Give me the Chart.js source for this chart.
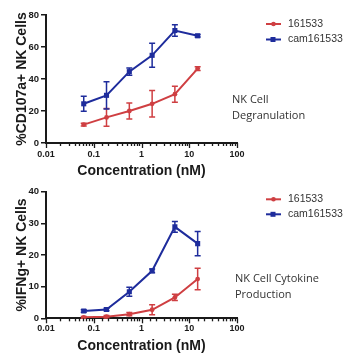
<!DOCTYPE html>
<html><head><meta charset="utf-8">
<script src="https://cdn.jsdelivr.net/npm/chart.js@4.4.1/dist/chart.umd.min.js"></script>
<style>
html,body{margin:0;padding:0;background:#fff;width:360px;height:360px;overflow:hidden}
canvas{position:absolute;left:0}
#c1{top:0px}
#c2{top:180px}
.note{position:absolute;font-family:"Open Sans",sans-serif;font-size:11px;line-height:16px;color:#333;white-space:nowrap}
</style></head><body>
<canvas id="c1" width="360" height="180"></canvas>
<canvas id="c2" width="360" height="180"></canvas>
<div class="note" style="left:232px;top:91px">NK Cell<br>Degranulation</div>
<div class="note" style="left:235px;top:270px">NK Cell Cytokine<br>Production</div>
<script>
// ---- data ----
const concentrations = [0.0617, 0.185, 0.556, 1.67, 5, 15];
const seriesNames = ["161533", "cam161533"];
const xTickLabels = ["0.01", "0.1", "1", "10", "100"];

const degran161533 = [11.5, 16, 20, 24.5, 30.5, 46.5];
const degran161533Err = [0.8, 5.5, 5, 8.3, 5, 1.2];
const degranCam161533 = [24.5, 29.8, 44.6, 54.8, 70.3, 67];
const degranCam161533Err = [4.7, 8.5, 2.3, 7.5, 3.6, 0.8];

const ifng161533 = [0.3, 0.5, 1.3, 2.7, 6.6, 12.4];
const ifng161533Err = [0.3, 0.4, 0.5, 1.6, 1.0, 3.4];
const ifngCam161533 = [2.3, 2.8, 8.4, 15, 28.9, 23.6];
const ifngCam161533Err = [0.4, 0.4, 1.4, 0.6, 1.7, 3.8];

const RED = '#cf3f42';
const BLUE = '#1e2c9c';
const AX = '#1a1a1a';
const FONT = '"Liberation Sans", Arial, sans-serif';

const errorBars = {
  id: 'errorBars',
  afterDatasetsDraw(chart) {
    const ctx = chart.ctx, xs = chart.scales.x, ys = chart.scales.y;
    chart.data.datasets.forEach(ds => {
      if (!ds.err) return;
      ctx.save();
      ctx.strokeStyle = ds.borderColor;
      ctx.lineWidth = 1.5;
      ds.data.forEach((p, i) => {
        const e = ds.err[i];
        if (!e) return;
        const x = xs.getPixelForValue(p.x);
        const y1 = ys.getPixelForValue(p.y + e);
        const y2 = ys.getPixelForValue(Math.max(p.y - e, 0));
        ctx.beginPath();
        ctx.moveTo(x, y1); ctx.lineTo(x, y2);
        ctx.moveTo(x - 3, y1); ctx.lineTo(x + 3, y1);
        ctx.moveTo(x - 3, y2); ctx.lineTo(x + 3, y2);
        ctx.stroke();
      });
      ctx.restore();
    });
  }
};

const logTicks = {
  id: 'logTicks',
  afterDraw(chart) {
    const ctx = chart.ctx, xs = chart.scales.x;
    const yb = chart.chartArea.bottom;
    ctx.save();
    ctx.strokeStyle = AX;
    ctx.lineWidth = 1.3;
    xs.ticks.forEach(t => {
      const l = Math.log10(t.value);
      const major = Math.abs(l - Math.round(l)) < 1e-6;
      const x = Math.round(xs.getPixelForValue(t.value)) + 0.5;
      ctx.beginPath();
      ctx.moveTo(x, yb);
      ctx.lineTo(x, yb + (major ? 5 : 3));
      ctx.stroke();
    });
    ctx.restore();
  }
};

function makeLegend(rows) {
  return {
    id: 'sideLegend',
    afterDraw(chart) {
      const ctx = chart.ctx;
      ctx.save();
      chart.data.datasets.forEach((ds, i) => {
        const y = rows[i];
        ctx.strokeStyle = ds.borderColor;
        ctx.lineWidth = 2;
        ctx.beginPath(); ctx.moveTo(266, y); ctx.lineTo(281, y); ctx.stroke();
        ctx.fillStyle = ds.borderColor;
        if (ds.pointStyle === 'rect') ctx.fillRect(270.5, y - 2.5, 5, 5);
        else { ctx.beginPath(); ctx.arc(273.5, y, 2.3, 0, Math.PI * 2); ctx.fill(); }
        ctx.fillStyle = '#333';
        ctx.font = '10.5px ' + FONT;
        ctx.textBaseline = 'middle';
        ctx.textAlign = 'left';
        ctx.fillText(ds.label, 288, y);
      });
      ctx.restore();
    }
  };
}

function ds(label, vals, errs, color, style) {
  return {
    label: label,
    data: concentrations.map((c, i) => ({x: c, y: vals[i]})),
    err: errs,
    borderColor: color,
    backgroundColor: color,
    borderWidth: 2,
    pointStyle: style,
    pointRadius: style === 'rect' ? 3.6 : 2.4,
    pointBorderWidth: 0,
    tension: 0
  };
}

function makePanel(id, p) {
  return new Chart(document.getElementById(id), {
    type: 'line',
    data: {
      datasets: [
        ds(seriesNames[0], p.red, p.redErr, RED, 'circle'),
        ds(seriesNames[1], p.blue, p.blueErr, BLUE, 'rect')
      ]
    },
    options: {
      responsive: false,
      animation: false,
      devicePixelRatio: 1,
      layout: {padding: {left: 0, right: 123, top: p.padTop, bottom: 0}},
      plugins: {legend: {display: false}, tooltip: {enabled: false}},
      scales: {
        x: {
          type: 'logarithmic',
          min: 0.01, max: 100,
          afterFit: s => { s.height = p.xHeight; },
          grid: {display: false, drawTicks: false},
          border: {display: true, color: AX, width: 2},
          ticks: {
            autoSkip: false, maxRotation: 0, padding: p.tickPad,
            color: AX, font: {family: FONT, size: 9, weight: 'bold'},
            callback: v => {
              const l = Math.log10(v);
              if (Math.abs(l - Math.round(l)) > 1e-6) return '';
              return xTickLabels[Math.round(l) + 2];
            }
          },
          title: {display: true, text: 'Concentration (nM)', color: AX,
            font: {family: FONT, size: 14, weight: 'bold'}, padding: {top: 0, bottom: p.titlePad}}
        },
        y: {
          min: 0, max: p.ymax,
          afterFit: s => { s.width = 46; },
          grid: {display: true, drawOnChartArea: false, drawTicks: true, tickLength: 5, color: AX, lineWidth: 1.5},
          border: {display: true, color: AX, width: 2},
          ticks: {stepSize: p.ystep, padding: 2, color: AX, font: {family: FONT, size: 9.5, weight: 'bold'}},
          title: {display: true, text: p.ytitle, color: AX,
            font: {family: FONT, size: 14, weight: 'bold'}, padding: {top: 14, bottom: 0}}
        }
      }
    },
    plugins: [errorBars, logTicks, makeLegend(p.legendRows)]
  });
}

makePanel('c1', {
  red: degran161533, redErr: degran161533Err,
  blue: degranCam161533, blueErr: degranCam161533Err,
  ymax: 80, ystep: 20, ytitle: '%CD107a+ NK Cells',
  padTop: 15, xHeight: 37, tickPad: 6.5, titlePad: 0, legendRows: [24, 39.5]
});
makePanel('c2', {
  red: ifng161533, redErr: ifng161533Err,
  blue: ifngCam161533, blueErr: ifngCam161533Err,
  ymax: 40, ystep: 10, ytitle: '%IFNg+ NK Cells',
  padTop: 11.7, xHeight: 41.7, tickPad: 4.5, titlePad: 5, legendRows: [19.3, 34.3]
});
</script>
</body></html>
